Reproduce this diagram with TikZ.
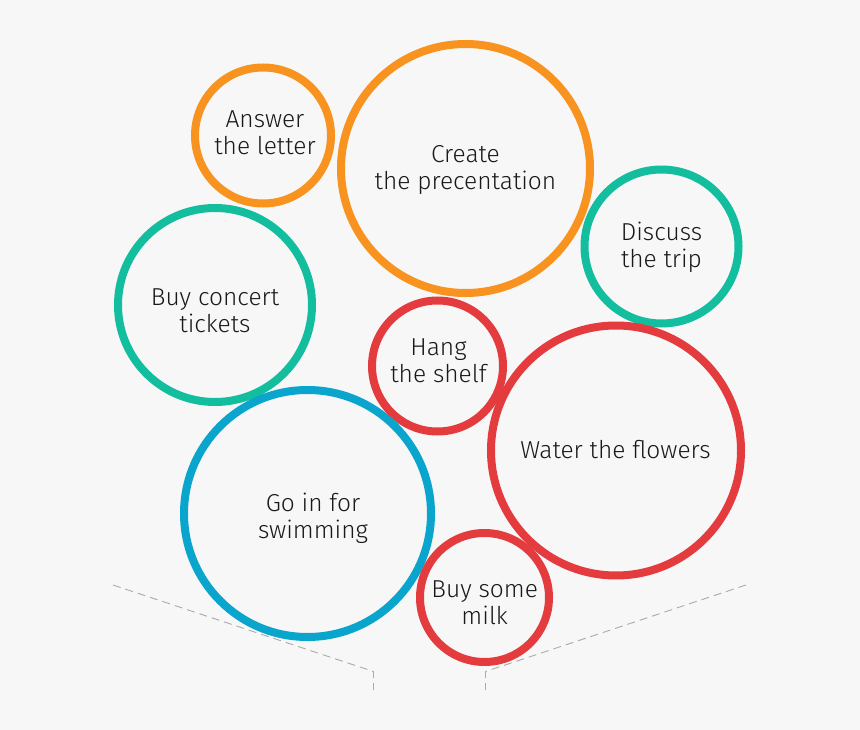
\documentclass[tikz,border=0pt]{standalone}
\usepackage{fontspec}
\setmainfont{Fira Sans}[UprightFont=* Light]
\definecolor{bgc}{HTML}{F7F7F7}
\definecolor{orng}{HTML}{F8931F}
\definecolor{teal}{HTML}{13BE9E}
\definecolor{redc}{HTML}{E43C3E}
\definecolor{bluec}{HTML}{0AA5CC}
\definecolor{dashc}{HTML}{AAAAAA}
\tikzset{
  bubble/.style={circle, draw=#1, line width=8pt, inner sep=0pt},
  caption/.style={align=center, inner sep=0pt,
    font=\fontsize{24.5}{27}\selectfont, text=black!90},
  guide/.style={draw=dashc, line width=0.9pt, dash pattern=on 8pt off 5pt}
}
\begin{document}
\begin{tikzpicture}[x=1pt,y=-1pt]
\fill[bgc] (0,0) rectangle (860,730);
\useasboundingbox (0,0) rectangle (860,730);
\node[bubble=orng, minimum size=136pt] (answer) at (263,135.5) {};
\node[bubble=orng, minimum size=249pt] (create) at (465.5,168.5) {};
\node[bubble=teal, minimum size=154pt] (discuss) at (661.5,246.5) {};
\node[bubble=teal, minimum size=194pt] (concert) at (215,305) {};
\node[bubble=redc, minimum size=131pt] (hang) at (437.5,366) {};
\node[bubble=redc, minimum size=250pt] (water) at (616,450.5) {};
\node[bubble=bluec, minimum size=247pt] (swim) at (307.5,513.5) {};
\node[bubble=redc, minimum size=129pt] (milk) at (484.5,597.5) {};
\node[caption] (answer-t) at (265,132.5) {Answer\\the letter};
\node[caption] (create-t) at (465.5,170.3) {Create\\the precentation};
\node[caption] (discuss-t) at (661.5,247.3) {Discuss\\the trip};
\node[caption] (concert-t) at (215,310.5) {Buy concert\\tickets};
\node[caption] (hang-t) at (438.5,360.3) {Hang\\the shelf};
\node[caption] (water-t) at (615.5,449.4) {Water the flowers};
\node[caption] (swim-t) at (313,518.5) {Go in for\\swimming};
\node[caption] (milk-t) at (484.7,603) {Buy some\\milk};
\coordinate (l1) at (113,585);
\coordinate (l2) at (373.5,671.5);
\coordinate (l3) at (373.5,690);
\coordinate (r1) at (746,585);
\coordinate (r2) at (485.5,671.5);
\coordinate (r3) at (485.5,690);
\draw[guide] (l1) -- (l2) -- (l3);
\draw[guide] (r1) -- (r2) -- (r3);
\end{tikzpicture}
\end{document}
